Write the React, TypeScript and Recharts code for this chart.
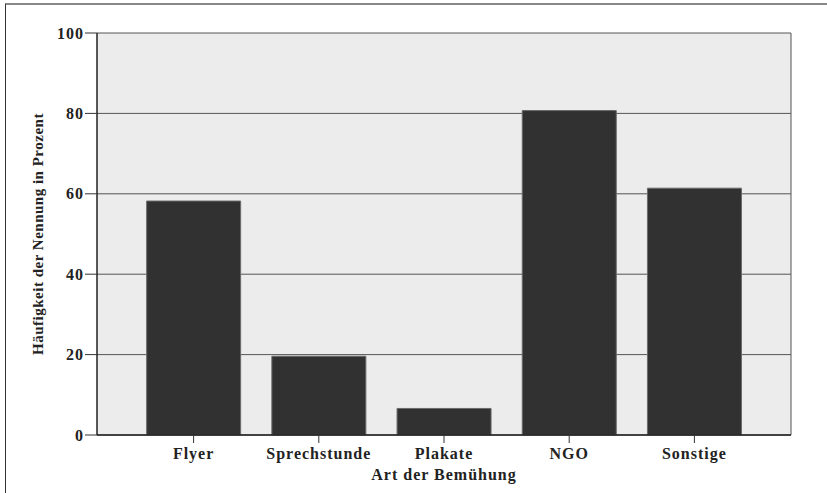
import { Bar, BarChart, CartesianGrid, XAxis, YAxis } from "recharts";

const categories = ["Flyer", "Sprechstunde", "Plakate", "NGO", "Sonstige"];
const values = [58.2, 19.6, 6.6, 80.7, 61.4];
const yTicks = [0, 20, 40, 60, 80, 100];

const data = categories.map((name, i) => ({ name, value: values[i] }));

const font = "'Liberation Serif', 'Times New Roman', serif";
const tickStyle = {
    fontFamily: font,
    fontWeight: 700,
    fontSize: 16,
    letterSpacing: 1,
    fill: "#222",
};
const yLabelStyle = { ...tickStyle, fontSize: 15, letterSpacing: 0.5, textAnchor: "middle" };

export default function App() {
    return (
        <div
            style={{
                position: "absolute",
                left: 0,
                top: 0,
                width: 827,
                height: 493,
                background: "#fff",
            }}>
            <div
                style={{
                    position: "absolute",
                    left: 5,
                    top: 3,
                    right: 0,
                    bottom: 0,
                    borderTop: "2px solid #888",
                    borderLeft: "1px solid #333",
                }}
            />
            <BarChart
                width={827}
                height={493}
                data={data}
                margin={{ top: 33, right: 36, bottom: 0, left: 0 }}
                barCategoryGap="12.5%"
                style={{ position: "absolute", left: 0, top: 0 }}>
                <CartesianGrid
                    fill="#ececec"
                    stroke="#555"
                    strokeWidth={1}
                    verticalCoordinatesGenerator={({ offset }: any) => [
                        offset.left + offset.width,
                    ]}
                />
                <XAxis
                    dataKey="name"
                    height={58}
                    padding={{ left: 34, right: 34 }}
                    axisLine={{ stroke: "#222", strokeWidth: 1.5 }}
                    tickLine={{ stroke: "#333" }}
                    tickSize={8}
                    tickMargin={5}
                    tick={tickStyle}
                    interval={0}
                    label={{
                        value: "Art der Bemühung",
                        position: "insideBottom",
                        offset: 13,
                        style: tickStyle,
                    }}
                />
                <YAxis
                    width={97}
                    domain={[0, 100]}
                    ticks={yTicks}
                    axisLine={{ stroke: "#222", strokeWidth: 1.5 }}
                    tickLine={{ stroke: "#333" }}
                    tickSize={12}
                    tickMargin={1}
                    tick={tickStyle}
                    label={{
                        value: "Häufigkeit der Nennung in Prozent",
                        angle: -90,
                        position: "insideLeft",
                        offset: 38,
                        style: yLabelStyle,
                    }}
                />
                <Bar
                    dataKey="value"
                    fill="#313131"
                    stroke="#6a6a6a"
                    strokeWidth={1}
                    isAnimationActive={false}
                />
            </BarChart>
        </div>
    );
}
